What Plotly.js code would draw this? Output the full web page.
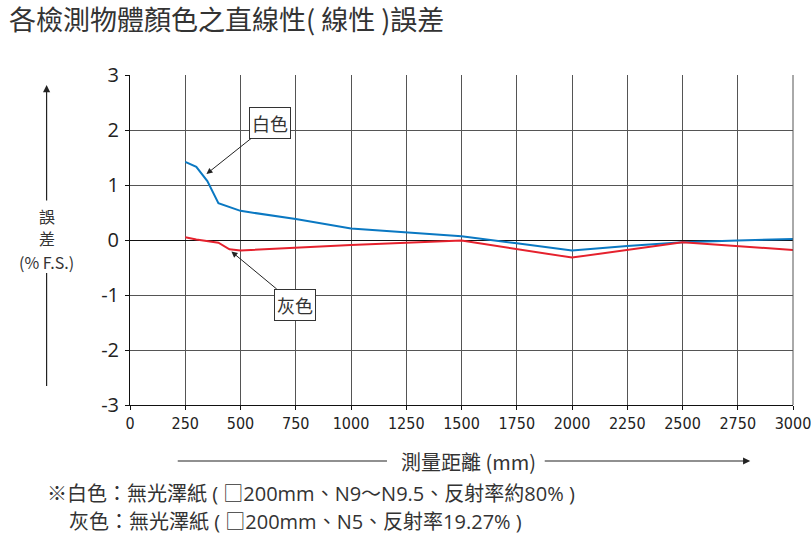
<!DOCTYPE html>
<html>
<head>
<meta charset="utf-8">
<script src="https://cdn.plot.ly/plotly-3.0.1.min.js"></script>
<style>
html,body{margin:0;padding:0;background:#fff;}
#chart{width:811px;height:544px;}
</style>
</head>
<body>
<div id="chart"></div>
<script>
var whiteX = [250, 300, 350, 400, 500, 750, 1000, 1250, 1500, 1750, 2000, 2250, 2500, 2750, 3000];
var whiteY = [1.42, 1.33, 1.07, 0.67, 0.53, 0.38, 0.21, 0.14, 0.07, -0.06, -0.19, -0.11, -0.04, -0.01, 0.02];
var grayX = [250, 300, 400, 450, 500, 1000, 1500, 1750, 2000, 2500, 2750, 3000];
var grayY = [0.05, 0.01, -0.05, -0.17, -0.19, -0.09, -0.01, -0.17, -0.32, -0.04, -0.11, -0.18];
var xTicks = [0, 250, 500, 750, 1000, 1250, 1500, 1750, 2000, 2250, 2500, 2750, 3000];
var yTicks = [-3, -2, -1, 0, 1, 2, 3];

var titleText = '各檢測物體顏色之直線性( 線性 )誤差';
var xTitle = '測量距離 (mm)';
var yTitleLines = ['誤', '差', '(% F.S.)'];
var whiteLabel = '白色';
var grayLabel = '灰色';
var note1 = '※白色：無光澤紙 ( □200mm、N9～N9.5、反射率約80% )';
var note2 = '灰色：無光澤紙 ( □200mm、N5、反射率19.27% )';

var cjk = '"Noto Sans CJK TC", "Noto Sans", sans-serif';
var mixed = '"Open Sans", "Noto Sans CJK TC", sans-serif';
var txtColor = '#333';

var traces = [
  {x: whiteX, y: whiteY, type: 'scatter', mode: 'lines', line: {color: '#0a78c2', width: 2}, hoverinfo: 'skip'},
  {x: grayX, y: grayY, type: 'scatter', mode: 'lines', line: {color: '#e5212d', width: 2}, hoverinfo: 'skip'}
];

var yTitleAnn = yTitleLines.map(function (t, i) {
  return {xref: 'paper', yref: 'paper', x: -0.1258, y: [0.573, 0.506, 0.433][i], xanchor: 'center', yanchor: 'middle',
          showarrow: false, text: t, font: {family: cjk, size: 16, color: txtColor}};
});

var layout = {
  width: 811, height: 544,
  margin: {l: 130, r: 18, t: 75, b: 139},
  paper_bgcolor: '#fff', plot_bgcolor: '#fff',
  showlegend: false,
  xaxis: {
    range: [0, 3000], tickvals: xTicks, ticktext: xTicks.map(String),
    showgrid: true, gridcolor: '#555', gridwidth: 1,
    zeroline: false, showline: true, linecolor: '#111', linewidth: 1,
    ticks: 'outside', ticklen: 4, tickcolor: '#111', ticklabeloverflow: 'allow',
    tickfont: {family: '"DejaVu Sans Condensed", sans-serif', size: 16, color: '#222'},
    fixedrange: true
  },
  yaxis: {
    range: [-3, 3], tickvals: yTicks, ticktext: yTicks.map(String),
    showgrid: true, gridcolor: '#555', gridwidth: 1,
    zeroline: true, zerolinecolor: '#111', zerolinewidth: 1,
    showline: true, linecolor: '#111', linewidth: 1,
    ticks: 'outside', ticklen: 4, tickcolor: '#111', ticklabelstandoff: 2,
    tickfont: {family: '"Open Sans", sans-serif', size: 20, color: '#222'},
    fixedrange: true
  },
  annotations: [
    {xref: 'paper', yref: 'paper', x: -0.1861, y: 1.1697, xanchor: 'left', yanchor: 'middle', showarrow: false,
     text: titleText, font: {family: cjk, size: 27, color: txtColor}},
    {xref: 'paper', yref: 'paper', x: -0.1258, y: 0.9697, showarrow: true, text: '', ax: 0, ay: 117,
     arrowhead: 2, arrowsize: 1.2, arrowwidth: 1.2, arrowcolor: '#222'},
    {xref: 'paper', yref: 'paper', x: 0.5113, y: -0.1697, xanchor: 'center', yanchor: 'middle', showarrow: false,
     text: xTitle, font: {family: cjk, size: 20, color: txtColor}},
    {xref: 'paper', yref: 'paper', x: 0.9355, y: -0.1697, showarrow: true, text: '', ax: -207, ay: 0,
     arrowhead: 2, arrowsize: 1.2, arrowwidth: 1.2, arrowcolor: '#222'},
    {xref: 'x', yref: 'y', x: 346, y: 1.2, ax: 64, ay: -51, showarrow: true, text: whiteLabel,
     font: {family: cjk, size: 18, color: txtColor}, bordercolor: '#333', borderwidth: 1, borderpad: 2, bgcolor: '#fff',
     arrowhead: 2, arrowsize: 1.2, arrowwidth: 1, arrowcolor: '#222'},
    {xref: 'x', yref: 'y', x: 459, y: -0.21, ax: 64, ay: 53, showarrow: true, text: grayLabel,
     font: {family: cjk, size: 18, color: txtColor}, bordercolor: '#333', borderwidth: 1, borderpad: 2, bgcolor: '#fff',
     arrowhead: 2, arrowsize: 1.2, arrowwidth: 1, arrowcolor: '#222'},
    {xref: 'paper', yref: 'paper', x: -0.1273, y: -0.2667, xanchor: 'left', yanchor: 'middle', showarrow: false,
     borderpad: 0, text: note1, font: {family: mixed, size: 20, color: txtColor}},
    {xref: 'paper', yref: 'paper', x: -0.0941, y: -0.3545, xanchor: 'left', yanchor: 'middle', showarrow: false,
     borderpad: 0, text: note2, font: {family: mixed, size: 20, color: txtColor}}
  ].concat(yTitleAnn),
  shapes: [
    {type: 'line', xref: 'paper', yref: 'paper', x0: -0.1258, x1: -0.1258, y0: 0.0576, y1: 0.40, line: {color: '#222', width: 1.2}},
    {type: 'line', xref: 'paper', yref: 'paper', x0: 0.0720, x1: 0.3876, y0: -0.1697, y1: -0.1697, line: {color: '#222', width: 1.2}},
    {type: 'line', xref: 'paper', yref: 'paper', x0: 1, x1: 1, y0: 0, y1: 1, line: {color: '#555', width: 1}}
  ]
};

Plotly.newPlot('chart', traces, layout, {displayModeBar: false, staticPlot: true});
</script>
</body>
</html>
